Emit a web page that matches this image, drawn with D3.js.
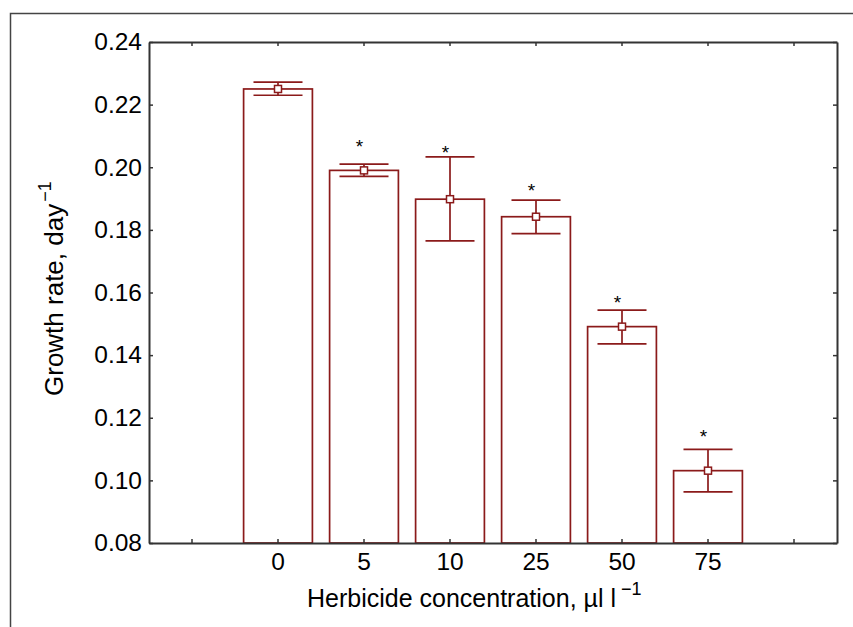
<!DOCTYPE html>
<html>
<head>
<meta charset="utf-8">
<script src="https://cdn.jsdelivr.net/npm/d3@7"></script>
<style>
  body { margin: 0; background: #fff; }
  svg { display: block; }
  text { font-family: "Liberation Sans", Arial, sans-serif; fill: #000; }
</style>
</head>
<body>
<svg id="chart" width="853" height="627"></svg>
<script>
// ---- data ----
const categories = ["0", "5", "10", "25", "50", "75"];
const means      = [0.2250, 0.1990, 0.1898, 0.1842, 0.1491, 0.1031];
const upper      = [0.2272, 0.2010, 0.2033, 0.1895, 0.1544, 0.1099];
const lower      = [0.2230, 0.1971, 0.1765, 0.1788, 0.1436, 0.0963];
const starValues = [null, 0.2077, 0.2058, 0.1937, 0.1579, 0.1151];
const yTicks     = [0.08, 0.10, 0.12, 0.14, 0.16, 0.18, 0.20, 0.22, 0.24];
const yLabel     = "Growth rate, day";
const xLabel     = "Herbicide concentration, µl l";
const supLabel   = "\u22121";

(function () {
const svg = d3.select("#chart");
const W = 853, H = 627;
const mLeft = 149, mRight = 837, mTop = 42, mBottom = 543;
const red = "#8b1a1a";
const axisCol = "#333";

// outer frame (left and top lines)
svg.append("path")
  .attr("d", `M10.5,${H} L10.5,13.5 L${W},13.5`)
  .attr("fill", "none").attr("stroke", "#444").attr("stroke-width", 1.5);

const slots = ["__a", ...categories, "__b"];
const x = d3.scaleBand().domain(slots).range([mLeft, mRight]).padding(0);
const y = d3.scaleLinear().domain([0.08, 0.24]).range([mBottom, mTop]);
const bw = x.bandwidth();

const g = svg.append("g");

// bars
const data = categories.map((c, i) => ({c, m: means[i], u: upper[i], l: lower[i], s: starValues[i]}));
g.selectAll("rect.bar").data(data).join("rect")
  .attr("class", "bar")
  .attr("x", d => x(d.c) + bw * 0.1)
  .attr("width", bw * 0.8)
  .attr("y", d => y(d.m))
  .attr("height", d => y(0.08) - y(d.m))
  .attr("fill", "#fff").attr("stroke", red).attr("stroke-width", 1.7);

// axes
const fmt = d3.format(".2f");
const axL = d3.axisLeft(y).tickValues(yTicks).tickFormat(fmt).tickSizeInner(-4).tickSizeOuter(0).tickPadding(7);
const axR = d3.axisRight(y).tickValues(yTicks).tickFormat("").tickSizeInner(-4).tickSizeOuter(0);
const axB = d3.axisBottom(x).tickFormat(d => d.startsWith("__") ? "" : d).tickSizeInner(-4).tickSizeOuter(0).tickPadding(10);
const axT = d3.axisTop(x).tickFormat("").tickSizeInner(-4).tickSizeOuter(0);

function style(sel) {
  sel.selectAll("path.domain").attr("stroke", axisCol).attr("stroke-width", 2);
  sel.selectAll(".tick line").attr("stroke", axisCol).attr("stroke-width", 1.5);
  sel.selectAll("text").attr("font-family", "Liberation Sans, Arial, sans-serif").attr("fill", "#000");
}
const gl = svg.append("g").attr("transform", `translate(${mLeft},0)`).call(axL).call(style);
gl.selectAll("text").attr("font-size", 24.5);
svg.append("g").attr("transform", `translate(${mRight},0)`).call(axR).call(style);
const gb = svg.append("g").attr("transform", `translate(0,${mBottom})`).call(axB).call(style);
gb.selectAll("text").attr("font-size", 24.5);
svg.append("g").attr("transform", `translate(0,${mTop})`).call(axT).call(style);

// error bars
const eg = svg.append("g");
const cx = d => x(d.c) + bw / 2;
const capW = bw * 0.57;
eg.selectAll("line.v").data(data).join("line")
  .attr("x1", cx).attr("x2", cx).attr("y1", d => y(d.u)).attr("y2", d => y(d.l))
  .attr("stroke", red).attr("stroke-width", 1.7);
eg.selectAll("line.cu").data(data).join("line")
  .attr("x1", d => cx(d) - capW / 2).attr("x2", d => cx(d) + capW / 2)
  .attr("y1", d => y(d.u)).attr("y2", d => y(d.u))
  .attr("stroke", red).attr("stroke-width", 1.7);
eg.selectAll("line.cl").data(data).join("line")
  .attr("x1", d => cx(d) - capW / 2).attr("x2", d => cx(d) + capW / 2)
  .attr("y1", d => y(d.l)).attr("y2", d => y(d.l))
  .attr("stroke", red).attr("stroke-width", 1.7);
eg.selectAll("rect.mk").data(data).join("rect")
  .attr("x", d => cx(d) - 3.5).attr("y", d => y(d.m) - 3.5)
  .attr("width", 7).attr("height", 7)
  .attr("fill", "#fff").attr("stroke", red).attr("stroke-width", 1.5);

// stars
eg.selectAll("text.star").data(data.filter(d => d.s != null)).join("text")
  .attr("x", d => cx(d) - 4.5).attr("y", d => y(d.s) + 10)
  .attr("text-anchor", "middle").attr("font-size", 19)
  .text("*");

// x title
const xt = svg.append("text").attr("x", 307).attr("y", 607).attr("font-size", 25);
xt.append("tspan").text(xLabel);
xt.append("tspan").attr("dx", 5).attr("dy", -12).attr("font-size", 18).text(supLabel);

// y title
const yt = svg.append("text")
  .attr("transform", `translate(63,396) rotate(-90)`)
  .attr("text-anchor", "start").attr("font-size", 26);
yt.append("tspan").text(yLabel);
yt.append("tspan").attr("dx", 2).attr("dy", -12).attr("font-size", 18).text(supLabel);
})();
</script>
</body>
</html>
